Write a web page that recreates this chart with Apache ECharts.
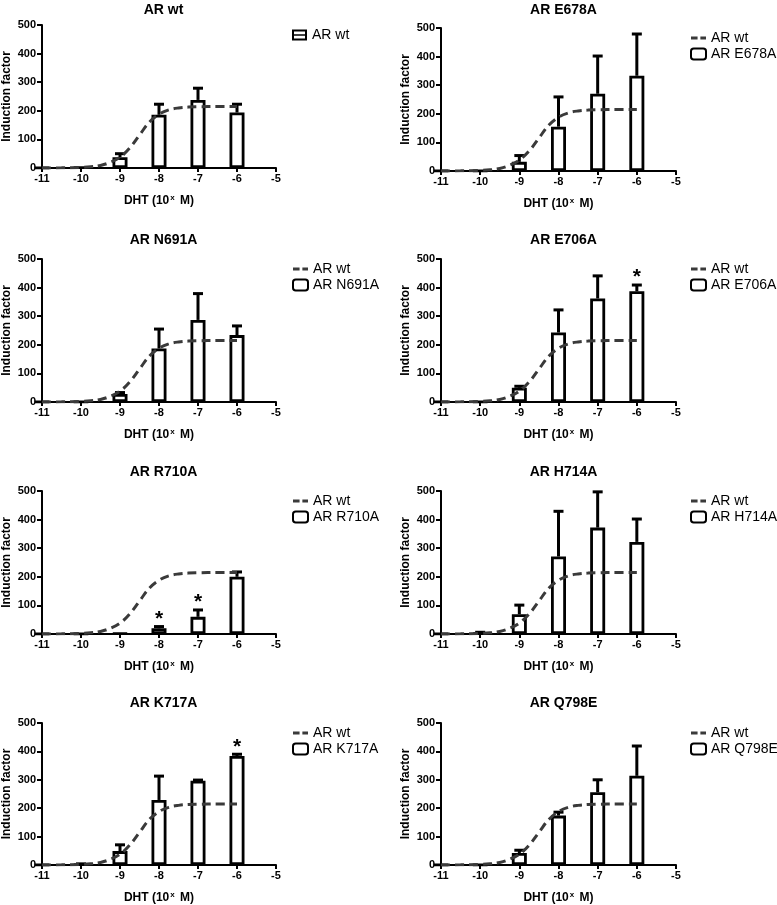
<!DOCTYPE html>
<html>
<head>
<meta charset="utf-8">
<script src="https://cdn.jsdelivr.net/npm/echarts@6/dist/echarts.min.js"></script>
<style>
html,body{margin:0;padding:0;background:#fff;}
#chart{width:777px;height:905px;}
</style>
</head>
<body>
<div id="chart"></div>
<script>
// ---- data ----
const doses = [-11, -10, -9, -8, -7, -6];
const xTicks = [-11, -10, -9, -8, -7, -6, -5];
const yTicks = [0, 100, 200, 300, 400, 500];

// AR wt fitted curve
const fitX = [-11, -10.5, -10, -9.75, -9.5, -9.25, -9, -8.75, -8.5, -8.25, -8, -7.75, -7.5, -7.25, -7, -6.5, -6];
const fitY = [0, 0.5, 2, 4, 9, 20, 38, 70, 115, 160, 188, 203, 210, 213, 214, 215, 215];

const meanWt    = [1, 2, 38, 186, 238, 194];
const semWt     = [0, 0, 12, 37, 41, 29];
const meanE678A = [1, 1, 32, 155, 270, 333];
const semE678A  = [0, 0, 22, 104, 132, 146];
const meanN691A = [1, 1, 28, 187, 287, 234];
const semN691A  = [0, 0, 5, 68, 92, 32];
const meanE706A = [1, 1, 50, 243, 362, 387];
const semE706A  = [0, 0, 5, 79, 79, 22];
const meanR710A = [1, 1, 2, 20, 60, 200];
const semR710A  = [0, 0, 0, 6, 24, 17];
const meanH714A = [1, 4, 69, 271, 372, 322];
const semH714A  = [0, 2, 32, 158, 125, 80];
const meanK717A = [1, 3, 49, 229, 297, 384];
const semK717A  = [0, 1, 22, 84, 2, 6];
const meanQ798E = [1, 1, 42, 174, 256, 314];
const semQ798E  = [0, 0, 10, 12, 44, 105];

const starsWt = [], starsE678A = [], starsN691A = [];
const starsE706A = [-6];
const starsR710A = [-8, -7];
const starsH714A = [];
const starsK717A = [-6];
const starsQ798E = [];

const titles = ['AR wt', 'AR E678A', 'AR N691A', 'AR E706A', 'AR R710A', 'AR H714A', 'AR K717A', 'AR Q798E'];
const means = [meanWt, meanE678A, meanN691A, meanE706A, meanR710A, meanH714A, meanK717A, meanQ798E];
const sems = [semWt, semE678A, semN691A, semE706A, semR710A, semH714A, semK717A, semQ798E];
const stars = [starsWt, starsE678A, starsN691A, starsE706A, starsR710A, starsH714A, starsK717A, starsQ798E];

const xName = 'DHT (10{sup|x} M)';
const yName = 'Induction factor';
const wtName = 'AR wt';

// ---- layout ----
const FONT = '"Liberation Sans", Arial, Helvetica, sans-serif';
const lefts = [41, 441];
const tops = [25, 28, 259, 259, 491, 491, 723, 723];
const titleTops = [-2, -2, 228, 228, 460, 460, 691, 691];
const GW = 235, GH = 143;

const grid = [], xAxis = [], yAxis = [], title = [], legend = [], series = [];

for (let i = 0; i < 8; i++) {
  const L = lefts[i % 2], T = tops[i];
  grid.push({ left: L, top: T, width: GW, height: GH });
  title.push({
    text: titles[i], left: L + GW / 2, top: titleTops[i], textAlign: 'center',
    textStyle: { fontFamily: FONT, fontWeight: 'bold', fontSize: 14, color: '#000' }
  });
  xAxis.push({
    type: 'value', gridIndex: i, min: xTicks[0], max: xTicks[xTicks.length - 1], interval: 1,
    axisLine: { show: true, onZero: false, lineStyle: { color: '#000', width: 2 } },
    axisTick: { show: true, length: 4, lineStyle: { color: '#000', width: 2 } },
    splitLine: { show: false },
    axisLabel: { color: '#000', fontFamily: FONT, fontWeight: 'bold', fontSize: 11, margin: 5 },
    name: xName, nameLocation: 'middle', nameGap: 26,
    nameTextStyle: {
      color: '#000', fontFamily: FONT, fontWeight: 'bold', fontSize: 12,
      rich: { sup: { fontFamily: FONT, fontWeight: 'bold', fontSize: 8, verticalAlign: 'top', padding: [0, 2, 6, 1], color: '#000' } }
    }
  });
  yAxis.push({
    type: 'value', gridIndex: i, min: yTicks[0], max: yTicks[yTicks.length - 1], interval: 100,
    axisLine: { show: true, lineStyle: { color: '#000', width: 2 } },
    axisTick: { show: true, length: 5, lineStyle: { color: '#000', width: 2 } },
    splitLine: { show: false },
    axisLabel: { color: '#000', fontFamily: FONT, fontWeight: 'bold', fontSize: 11, margin: 6 },
    name: yName, nameLocation: 'middle', nameGap: 29,
    nameTextStyle: { color: '#000', fontFamily: FONT, fontWeight: 'bold', fontSize: 12 }
  });

  const barName = i === 0 ? wtName + ' ' : titles[i];
  // fitted wt curve
  series.push({
    name: wtName, type: 'line', xAxisIndex: i, yAxisIndex: i, smooth: 0.4,
    symbol: 'none', showSymbol: false, silent: true, z: 4,
    itemStyle: { color: '#3a3a3a' },
    lineStyle: { color: '#3a3a3a', width: 3, type: [9, 5] },
    data: fitX.map((x, j) => [x, fitY[j]])
  });
  // bars
  series.push({
    name: barName, type: 'bar', xAxisIndex: i, yAxisIndex: i, barWidth: 15, z: 2,
    itemStyle: { color: '#fff', borderColor: '#000', borderWidth: 2.8 },
    data: doses.map((d, j) => [d, means[i][j]])
  });
  // error bars (upper SEM)
  series.push({
    type: 'custom', xAxisIndex: i, yAxisIndex: i, z: 3, silent: true,
    encode: { x: 0, y: [1, 2] },
    data: doses.map((d, j) => [d, means[i][j], means[i][j] + sems[i][j]]).filter((r, j) => sems[i][j] > 0),
    renderItem: function (params, api) {
      const x = api.value(0);
      const p0 = api.coord([x, api.value(1)]);
      const p1 = api.coord([x, api.value(2)]);
      return {
        type: 'group', children: [
          { type: 'line', shape: { x1: p0[0], y1: p0[1], x2: p1[0], y2: p1[1] }, style: { stroke: '#000', lineWidth: 3 } },
          { type: 'line', shape: { x1: p1[0] - 5, y1: p1[1], x2: p1[0] + 5, y2: p1[1] }, style: { stroke: '#000', lineWidth: 3 } }
        ]
      };
    }
  });
  // significance stars
  if (stars[i].length) {
    series.push({
      type: 'custom', xAxisIndex: i, yAxisIndex: i, z: 5, silent: true,
      encode: { x: 0, y: 1 },
      data: stars[i].map(s => { const j = doses.indexOf(s); return [s, means[i][j] + sems[i][j]]; }),
      renderItem: function (params, api) {
        const p = api.coord([api.value(0), api.value(1)]);
        return {
          type: 'text', x: p[0], y: p[1] + 3,
          style: { text: '*', textAlign: 'center', textVerticalAlign: 'bottom', fontSize: 21, fontWeight: 'bold', fontFamily: FONT, fill: '#000' }
        };
      }
    });
  }

  const lgLeft = i % 2 === 0 ? 292 : 690;
  const lgData = i === 0
    ? [{ name: barName, icon: 'path://M0,0H30V22H0Z M4,4V9.5H26V4Z M4,12.5V18H26V12.5Z', itemStyle: { color: '#000', borderWidth: 0 } }]
    : [{ name: wtName, icon: 'path://M0,0H7V3H0Z M10,0H16V3H10Z', itemStyle: { color: '#3a3a3a', borderWidth: 0 } }, { name: barName }];
  legend.push({
    orient: 'vertical', left: lgLeft, top: T + 3, padding: 0, itemWidth: 15, itemHeight: 11, itemGap: 2,
    selectedMode: false,
    textStyle: { fontFamily: FONT, fontSize: 14, color: '#000' },
    formatter: n => n.trim(),
    data: lgData
  });
}

const chart = echarts.init(document.getElementById('chart'), null, { renderer: 'canvas' });
chart.setOption({
  animation: false, backgroundColor: '#fff',
  title, legend, grid, xAxis, yAxis, series
});
</script>
</body>
</html>
